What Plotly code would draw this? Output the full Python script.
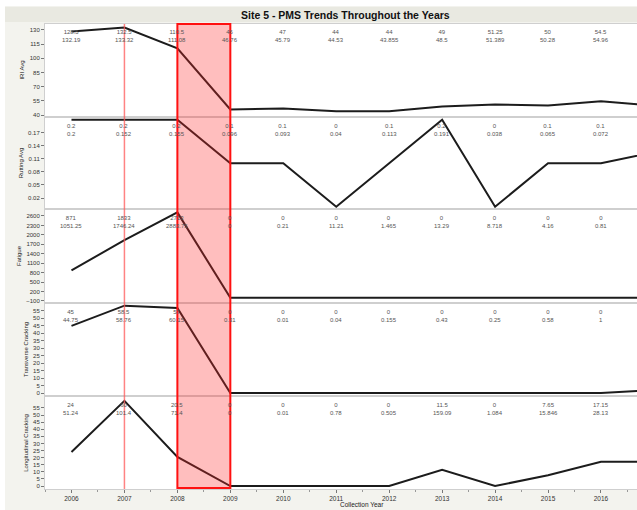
import plotly.graph_objects as go
from plotly.subplots import make_subplots

# ---------------- data ----------------
years = [2006, 2007, 2008, 2009, 2010, 2011, 2012, 2013, 2014, 2015, 2016, 2017]
label_years = years[:11]

iri_avg = [128.5, 132.5, 110.5, 46, 47, 44, 44, 49, 51.25, 50, 54.5, 50]
iri_top = ["128.5", "132.5", "110.5", "46", "47", "44", "44", "49", "51.25", "50", "54.5"]
iri_bot = ["132.19", "133.32", "111.08", "46.76", "45.79", "44.53", "43.855", "48.5", "51.389", "50.28", "54.96"]

rut_avg = [0.2, 0.2, 0.2, 0.1, 0.1, 0, 0.1, 0.2, 0, 0.1, 0.1, 0.125]
rut_top = ["0.2", "0.2", "0.2", "0.1", "0.1", "0", "0.1", "0.2", "0", "0.1", "0.1"]
rut_bot = ["0.2", "0.152", "0.155", "0.096", "0.093", "0.04", "0.113", "0.191", "0.038", "0.065", "0.072"]

fatigue = [871, 1833, 2713, 0, 0, 0, 0, 0, 0, 0, 0, 0]
fat_top = ["871", "1833", "2713", "0", "0", "0", "0", "0", "0", "0", "0"]
fat_bot = ["1051.25", "1746.24", "2883.75", "0", "0.21", "11.21", "1.465", "13.29", "8.718", "4.16", "0.81"]

trans = [45, 58.5, 57, 0, 0, 0, 0, 0, 0, 0, 0, 2]
tr_top = ["45", "58.5", "57", "0", "0", "0", "0", "0", "0", "0", "0"]
tr_bot = ["44.75", "58.76", "60.15", "0.31", "0.01", "0.04", "0.155", "0.43", "0.25", "0.58", "1"]

longi = [24, 60, 20.5, 0, 0, 0, 0, 11.5, 0, 7.65, 17.15, 17.15]
lo_top = ["24", "60", "20.5", "0", "0", "0", "0", "11.5", "0", "7.65", "17.15"]
lo_bot = ["51.24", "101.4", "71.4", "0", "0.01", "0.78", "0.505", "159.09", "1.084", "15.846", "28.13"]

panel_names = ["IRI Avg", "Rutting Avg", "Fatigue", "Transverse Cracking", "Longitudinal Cracking"]
series = [iri_avg, rut_avg, fatigue, trans, longi]
tops = [iri_top, rut_top, fat_top, tr_top, lo_top]
bots = [iri_bot, rut_bot, fat_bot, tr_bot, lo_bot]

iri_ticks = [40, 55, 70, 85, 100, 115, 130]
rut_ticks = [0.02, 0.05, 0.08, 0.11, 0.14, 0.17]
fat_ticks = [-100, 200, 500, 800, 1100, 1400, 1700, 2000, 2300, 2600]
tr_ticks = [0, 5, 10, 15, 20, 25, 30, 35, 40, 45, 50, 55]
lo_ticks = [0, 5, 10, 15, 20, 25, 30, 35, 40, 45, 50, 55]
tick_sets = [iri_ticks, rut_ticks, fat_ticks, tr_ticks, lo_ticks]

y_ranges = [[39, 136.3], [-0.003, 0.204], [-132, 2790], [-1.3, 59.6], [-2.1, 62.7]]

highlight_years = [2008, 2009]
marker_year = 2007
x_range = [2005.5, 2016.68]

W, H = 637, 510
ML, MR, MT, MB = 45, 0, 24, 21
PH = H - MT - MB
PW = W - ML - MR

def py(p):  # pixel y -> paper y
    return (H - MB - p) / PH

def px(p):  # pixel x -> paper x
    return (p - ML) / PW

domains = [[py(116), 1.0], [py(208), py(118)], [py(302), py(210)], [py(395), py(304)], [0.0, py(397)]]

fig = make_subplots(rows=5, cols=1, shared_xaxes=True, vertical_spacing=0.004)

FONT = "Liberation Sans"

for i in range(5):
    r = i + 1
    fig.add_trace(go.Scatter(x=years, y=series[i], mode="lines",
                             line=dict(color="#1c1c1c", width=2),
                             showlegend=False, hoverinfo="skip"), row=r, col=1)
    ya = "yaxis" if r == 1 else f"yaxis{r}"
    fig.layout[ya].update(domain=domains[i], range=y_ranges[i], tickvals=tick_sets[i],
                          showgrid=False, zeroline=False, showline=True, mirror=True,
                          linecolor="#cfcfcf", linewidth=1, ticks="outside", ticklen=3,
                          tickcolor="#777", tickfont=dict(size=6, color="#333", family=FONT),
                          automargin=False,
                          title=dict(text=panel_names[i], font=dict(size=6, color="#222", family=FONT),
                                     standoff=4))
    xa = "xaxis" if r == 1 else f"xaxis{r}"
    fig.layout[xa].update(range=x_range, showgrid=False, zeroline=False, showline=True, mirror=True,
                          linecolor="#cfcfcf", linewidth=1, showticklabels=(r == 5),
                          ticks="outside" if r == 5 else "", ticklen=3, tickcolor="#777",
                          automargin=False,
                          tickvals=label_years, tickfont=dict(size=6.5, color="#333", family=FONT))
    yref = "y domain" if r == 1 else f"y{r} domain"
    xref = "x" if r == 1 else f"x{r}"
    for j, yr in enumerate(label_years):
        fig.add_annotation(x=yr, xref=xref, y=1, yref=yref, yanchor="top", yshift=-3,
                           text=f"{tops[i][j]}<br>{bots[i][j]}", showarrow=False,
                           font=dict(size=6, color="#555", family=FONT), align="center")

fig.layout.xaxis5.update(minor=dict(ticks="outside", ticklen=2, dtick=0.5, tick0=2005.5, tickcolor="#999"))
fig.add_annotation(x=px(362), y=py(504), xref="paper", yref="paper", text="Collection Year",
                   showarrow=False, font=dict(size=6.5, color="#222", family=FONT),
                   xanchor="center", yanchor="middle")

# white outer strips (top and left), beige frame comes from paper background
fig.add_shape(type="rect", xref="paper", yref="paper", x0=px(0), x1=px(W), y0=py(6), y1=py(0),
              fillcolor="white", line=dict(width=0), layer="below")
fig.add_shape(type="rect", xref="paper", yref="paper", x0=px(0), x1=px(5), y0=py(H), y1=py(0),
              fillcolor="white", line=dict(width=0), layer="below")
fig.add_shape(type="rect", xref="paper", yref="paper", x0=px(5), x1=px(W), y0=py(22), y1=py(7),
              fillcolor="#e9e9e1", line=dict(width=0), layer="below")
fig.add_annotation(x=px(345), y=py(15), xref="paper", yref="paper", text="<b>Site 5 - PMS Trends Throughout the Years</b>",
                   showarrow=False, font=dict(size=10.5, color="#111", family=FONT), xanchor="center", yanchor="middle")

# marker line and highlighted period
fig.add_shape(type="line", xref="x5", yref="paper", x0=marker_year, x1=marker_year, y0=0, y1=1,
              line=dict(color="rgba(255,90,90,0.75)", width=1.5), layer="above")
fig.add_shape(type="rect", xref="x5", yref="paper", x0=highlight_years[0], x1=highlight_years[1], y0=py(488), y1=1,
              fillcolor="rgba(255,40,40,0.3)", line=dict(color="#ff1010", width=2), layer="above")

fig.update_layout(width=W, height=H, margin=dict(l=ML, r=MR, t=MT, b=MB, autoexpand=False),
                  paper_bgcolor="#f3f3ee", plot_bgcolor="white", font=dict(family=FONT))

fig.write_html("out.html", config={"displayModeBar": False},
               post_script="document.body.style.margin='0';document.body.style.overflow='hidden';")
